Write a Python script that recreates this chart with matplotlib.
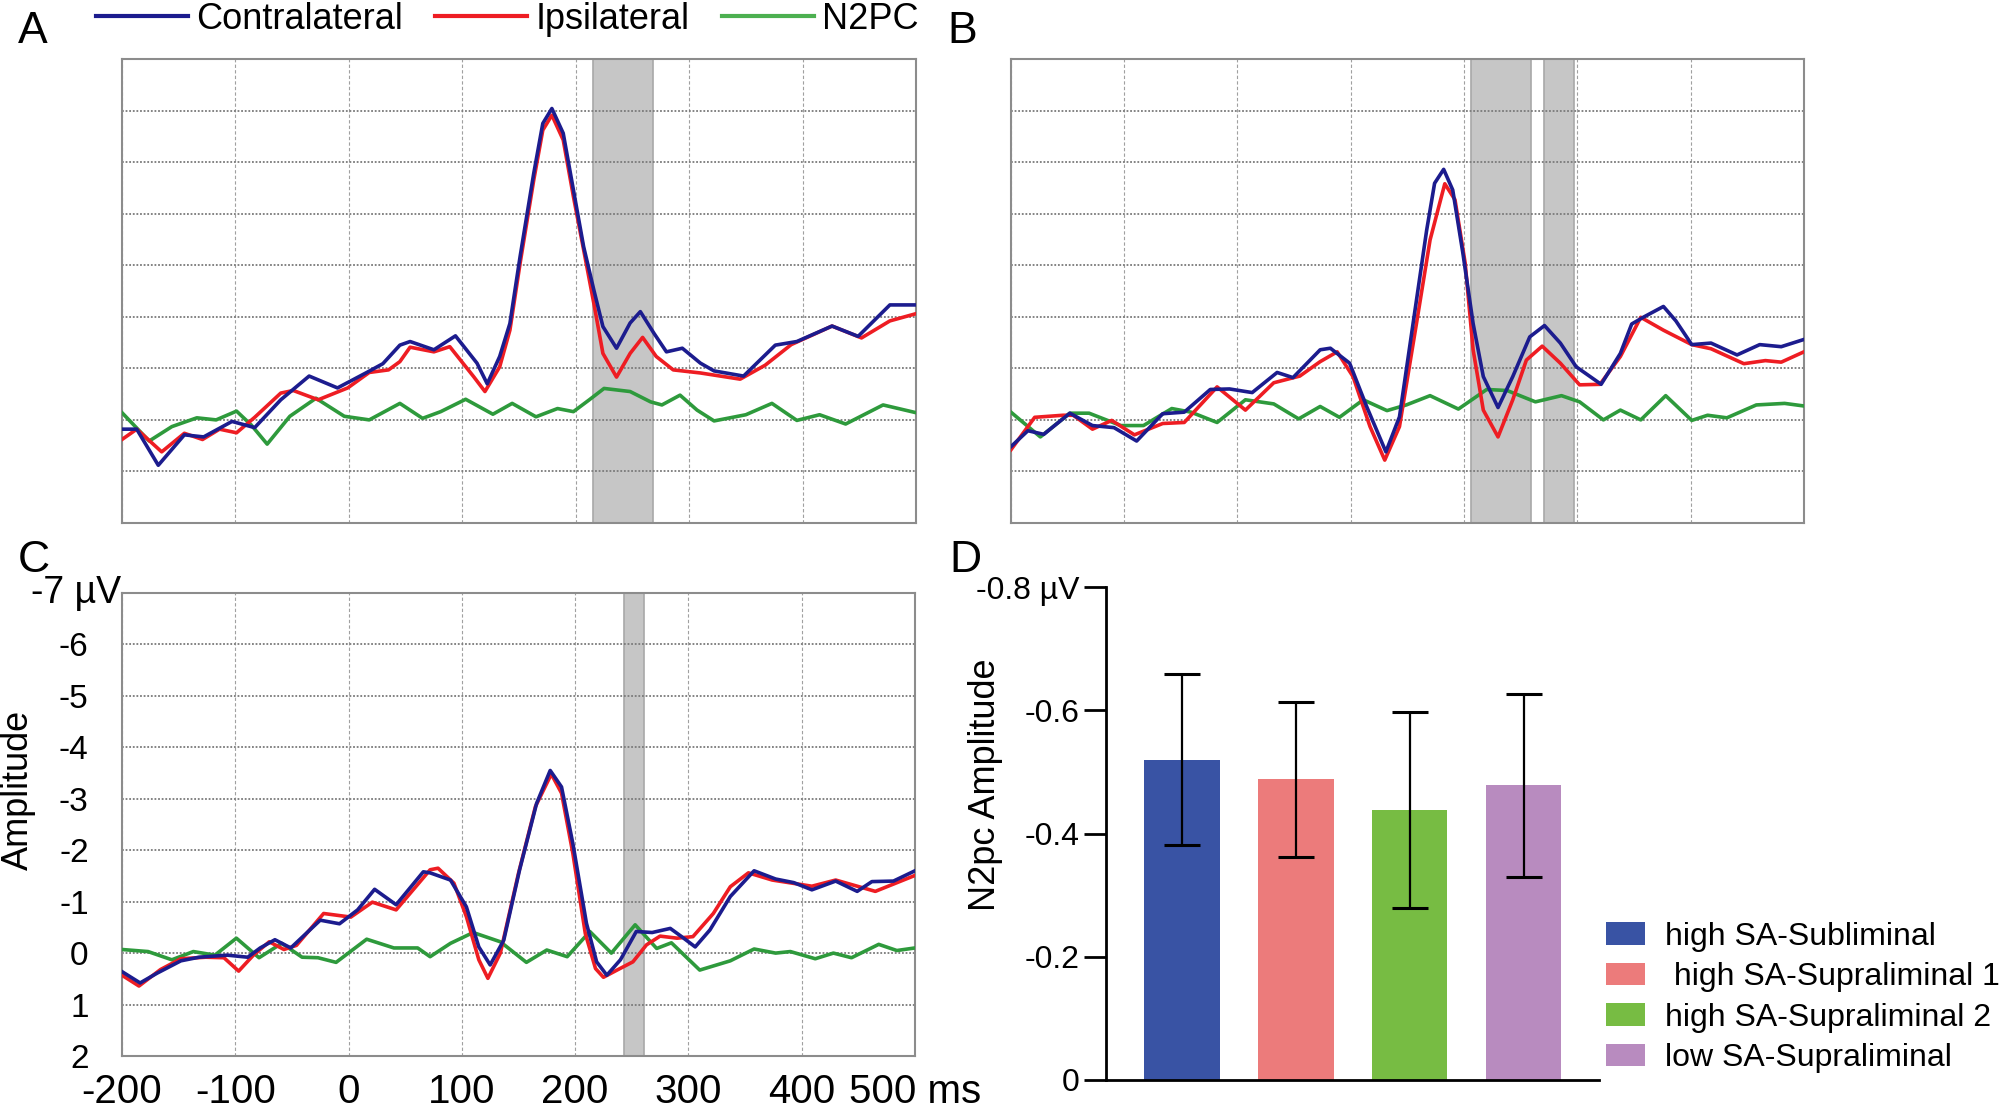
import numpy as np
import matplotlib
matplotlib.use('Agg')
import matplotlib.pyplot as plt
from matplotlib.lines import Line2D
from matplotlib.patches import Patch

plt.rcParams['font.family'] = ['Liberation Sans', 'DejaVu Sans']

# ---- panel A: waveforms (ms, uV) ----
a_con_t = [-200, -187, -168, -145, -128, -103, -83, -60, -35, -10, 15, 30, 45, 54, 75, 94, 113, 122, 133, 142,
           151, 163, 171, 179, 189, 198, 207, 216, 224, 236, 248, 257, 269, 280, 294, 310, 322, 348, 376, 395,
           426, 449, 477, 500]
a_con_v = [0.18, 0.18, 0.88, 0.29, 0.33, 0.03, 0.15, -0.39, -0.85, -0.62, -0.91, -1.09, -1.45, -1.52, -1.36,
           -1.63, -1.10, -0.70, -1.23, -1.87, -3.17, -4.78, -5.75, -6.04, -5.56, -4.46, -3.36, -2.52, -1.81,
           -1.39, -1.88, -2.10, -1.68, -1.32, -1.39, -1.10, -0.95, -0.85, -1.45, -1.52, -1.82, -1.62, -2.23,
           -2.23]
a_ips_t = [-200, -187, -165, -145, -129, -114, -99, -83, -60, -49, -27, -1, 18, 35, 45, 54, 75, 89, 110, 120,
           133, 142, 151, 163, 171, 179, 189, 198, 207, 216, 224, 236, 248, 259, 271, 286, 310, 345, 367, 390,
           426, 452, 477, 500]
a_ips_v = [0.38, 0.18, 0.62, 0.26, 0.38, 0.18, 0.25, -0.05, -0.52, -0.57, -0.39, -0.62, -0.92, -0.97, -1.13,
           -1.41, -1.32, -1.42, -0.84, -0.55, -1.03, -1.74, -3.04, -4.65, -5.62, -5.91, -5.43, -4.33, -3.30,
           -2.26, -1.29, -0.83, -1.29, -1.60, -1.23, -0.97, -0.91, -0.79, -1.06, -1.46, -1.82, -1.59, -1.92,
           -2.06]
a_n2_t = [-200, -176, -156, -134, -117, -99, -86, -72, -52, -29, -4, 18, 45, 65, 81, 103, 127, 144, 165, 184,
          198, 212, 225, 248, 266, 276, 292, 307, 322, 350, 373, 395, 415, 438, 471, 500]
a_n2_v = [-0.14, 0.41, 0.13, -0.04, 0.00, -0.17, 0.10, 0.47, -0.07, -0.42, -0.07, 0.00, -0.32, -0.03, -0.16,
          -0.40, -0.11, -0.32, -0.06, -0.22, -0.16, -0.39, -0.61, -0.55, -0.35, -0.29, -0.48, -0.19, 0.02,
          -0.10, -0.32, 0.01, -0.10, 0.08, -0.29, -0.14]
a_windows = [(215, 268)]

# ---- panel B ----
b_con_t = [-200, -185, -171, -148, -128, -109, -89, -66, -47, -24, -7, 13, 35, 49, 73, 82, 99, 114, 131, 143,
           155, 167, 174, 182, 190, 199, 208, 217, 230, 243, 258, 271, 285, 299, 321, 338, 348, 359, 376, 387,
           401, 418, 441, 461, 480, 500]
b_con_v = [0.52, 0.21, 0.28, -0.13, 0.11, 0.15, 0.41, -0.12, -0.15, -0.59, -0.60, -0.53, -0.92, -0.82, -1.36,
           -1.39, -1.10, -0.26, 0.62, -0.06, -1.87, -3.68, -4.59, -4.86, -4.46, -3.23, -1.87, -0.84, -0.24,
           -0.84, -1.61, -1.83, -1.49, -1.03, -0.69, -1.29, -1.86, -2.00, -2.20, -1.92, -1.46, -1.49, -1.26,
           -1.46, -1.42, -1.56]
b_ips_t = [-200, -179, -154, -145, -128, -111, -91, -66, -47, -18, 7, 32, 55, 73, 88, 102, 117, 130, 143, 158,
           170, 183, 192, 201, 208, 217, 230, 243, 255, 269, 285, 302, 320, 338, 356, 376, 401, 418, 447, 466,
           480, 500]
b_ips_v = [0.58, -0.05, -0.09, -0.09, 0.18, 0.01, 0.29, 0.07, 0.05, -0.64, -0.19, -0.72, -0.85, -1.13, -1.32,
           -0.84, 0.13, 0.78, 0.13, -1.87, -3.49, -4.58, -4.27, -3.04, -1.36, -0.19, 0.33, -0.39, -1.16, -1.43,
           -1.10, -0.68, -0.69, -1.23, -1.99, -1.74, -1.46, -1.38, -1.09, -1.15, -1.12, -1.32]
b_n2_t = [-200, -174, -148, -131, -103, -83, -58, -41, -18, 7, 32, 54, 73, 90, 111, 132, 149, 170, 195, 220,
          238, 263, 286, 302, 323, 338, 356, 378, 401, 415, 432, 458, 483, 500]
b_n2_v = [-0.15, 0.33, -0.13, -0.13, 0.11, 0.11, -0.22, -0.15, 0.05, -0.39, -0.31, -0.02, -0.26, -0.05, -0.39,
          -0.18, -0.29, -0.47, -0.21, -0.59, -0.57, -0.35, -0.47, -0.35, 0.00, -0.19, 0.00, -0.47, 0.01,
          -0.09, -0.04, -0.29, -0.32, -0.27]
b_windows = [(206, 259), (271, 297)]

# ---- panel C ----
c_con_t = [-200, -184, -169, -148, -132, -107, -89, -78, -65, -51, -25, -8, 8, 23, 42, 66, 72, 90, 104, 115,
           125, 137, 151, 166, 178, 188, 198, 210, 219, 228, 240, 254, 268, 284, 294, 306, 319, 337, 358, 377,
           393, 409, 430, 449, 462, 481, 500]
c_con_v = [0.36, 0.58, 0.39, 0.15, 0.08, 0.04, 0.08, -0.10, -0.26, -0.10, -0.64, -0.57, -0.84, -1.24, -0.94,
           -1.58, -1.56, -1.42, -0.90, -0.12, 0.23, -0.25, -1.62, -2.91, -3.55, -3.23, -2.13, -0.58, 0.17, 0.43,
           0.13, -0.42, -0.40, -0.48, -0.32, -0.12, -0.45, -1.10, -1.60, -1.44, -1.37, -1.23, -1.40, -1.20,
           -1.39, -1.40, -1.60]
c_ips_t = [-200, -185, -166, -148, -126, -110, -97, -84, -70, -57, -46, -22, 2, 21, 42, 72, 79, 93, 104, 115,
           123, 134, 150, 165, 179, 188, 198, 209, 218, 225, 237, 251, 263, 275, 290, 304, 322, 337, 353, 374,
           409, 430, 465, 500]
c_ips_v = [0.43, 0.64, 0.32, 0.11, 0.08, 0.09, 0.35, 0.04, -0.22, -0.07, -0.15, -0.77, -0.70, -0.99, -0.84,
           -1.62, -1.65, -1.36, -0.71, 0.13, 0.49, 0.00, -1.55, -2.85, -3.48, -3.11, -1.94, -0.38, 0.30, 0.47,
           0.33, 0.17, -0.16, -0.33, -0.29, -0.32, -0.77, -1.29, -1.56, -1.42, -1.30, -1.42, -1.20, -1.51]
c_n2_t = [-200, -177, -156, -137, -118, -99, -79, -59, -41, -27, -11, 16, 40, 61, 72, 90, 110, 134, 157, 175,
          193, 213, 232, 253, 272, 285, 310, 337, 358, 377, 390, 412, 428, 444, 468, 484, 500]
c_n2_v = [-0.07, -0.03, 0.13, -0.03, 0.04, -0.29, 0.09, -0.19, 0.08, 0.09, 0.18, -0.27, -0.10, -0.10, 0.07,
          -0.19, -0.40, -0.22, 0.18, -0.06, 0.07, -0.42, 0.00, -0.55, -0.09, -0.20, 0.33, 0.15, -0.08, 0.00,
          -0.03, 0.11, 0.00, 0.09, -0.17, -0.05, -0.10]
c_windows = [(243, 261)]

x_ticks = [-200, -100, 0, 100, 200, 300, 400, 500]
x_ticklabels = ['-200', '-100', '0', '100', '200', '300', '400', '500 ms']
y_ticks = [-7, -6, -5, -4, -3, -2, -1, 0, 1, 2]

# ---- panel D: N2pc amplitude bars ----
groups = ['high SA-Subliminal', ' high SA-Supraliminal 1', 'high SA-Supraliminal 2', 'low SA-Supraliminal']
n2pc_mean = [-0.52, -0.488, -0.438, -0.478]
n2pc_err = [0.139, 0.126, 0.159, 0.149]
bar_colors = ['#3953a4', '#ec7b7b', '#77bc43', '#b88bbf']

col_con = '#1c1c8e'
col_ips = '#ee1d23'
col_n2 = '#2e9a3c'

fig = plt.figure(figsize=(20.03, 11.09), dpi=100)


def erp_panel(rect, con, ips, n2, windows, labels=False):
    ax = fig.add_axes(rect)
    for w0, w1 in windows:
        ax.axvspan(w0, w1, color='#c6c6c6', ec='#a8a8a8', lw=1.2, zorder=1)
    ax.plot(n2[0], n2[1], color=col_n2, lw=2.6, zorder=3, solid_joinstyle='round')
    ax.plot(ips[0], ips[1], color=col_ips, lw=2.6, zorder=4, solid_joinstyle='round')
    ax.plot(con[0], con[1], color=col_con, lw=2.6, zorder=5, solid_joinstyle='round')
    ax.set_xlim(-200, 500)
    ax.set_ylim(2, -7)
    ax.set_xticks(x_ticks)
    ax.set_yticks(y_ticks)
    ax.grid(axis='x', color='#a0a0a0', ls=(0, (3, 2)), lw=0.8, zorder=0)
    ax.grid(axis='y', color='#7a7a7a', ls=(0, (1, 1)), lw=1.3, zorder=0)
    ax.tick_params(length=0)
    for s in ax.spines.values():
        s.set_color('#8c8c8c')
        s.set_linewidth(1.5)
    if labels:
        ax.set_xticklabels(x_ticklabels, fontsize=29)
        ax.set_yticklabels([''] + [str(v) for v in y_ticks[1:]], fontsize=24)
        ax.tick_params(axis='y', pad=24)
        ax.tick_params(axis='x', pad=12)
    else:
        ax.set_xticklabels([])
        ax.set_yticklabels([])
    return ax


ax_a = erp_panel([0.0609, 0.5284, 0.3964, 0.4184], (a_con_t, a_con_v), (a_ips_t, a_ips_v),
                 (a_n2_t, a_n2_v), a_windows)
ax_b = erp_panel([0.5047, 0.5284, 0.3959, 0.4184], (b_con_t, b_con_v), (b_ips_t, b_ips_v),
                 (b_n2_t, b_n2_v), b_windows)
ax_c = erp_panel([0.0609, 0.0478, 0.3959, 0.4175], (c_con_t, c_con_v), (c_ips_t, c_ips_v),
                 (c_n2_t, c_n2_v), c_windows, labels=True)
ax_c.text(-0.001, 1.0, '-7 µV', transform=ax_c.transAxes, ha='right', va='center', fontsize=27)
fig.text(0.009, 0.2875, 'Amplitude', rotation=90, ha='center', va='center', fontsize=26)

# ---- D ----
ax_d = fig.add_axes([0.5522, 0.02615, 0.2461, 0.4445])
xpos = np.arange(len(groups))
ax_d.bar(xpos, n2pc_mean, width=0.66, color=bar_colors, zorder=2)
ax_d.errorbar(xpos, n2pc_mean, yerr=n2pc_err, fmt='none', ecolor='black', elinewidth=1.6,
              capsize=13, capthick=2.2, zorder=3)
ax_d.set_xlim(-0.667, 3.66)
ax_d.set_ylim(0, -0.8)
ax_d.set_xticks([])
ax_d.set_yticks([0, -0.2, -0.4, -0.6, -0.8])
ax_d.set_yticklabels(['0', '-0.2', '-0.4', '-0.6', '-0.8 µV'], fontsize=23)
ax_d.tick_params(axis='y', length=16, width=2, pad=3)
ax_d.spines['top'].set_visible(False)
ax_d.spines['right'].set_visible(False)
ax_d.spines['left'].set_linewidth(2)
ax_d.spines['bottom'].set_linewidth(2)
fig.text(0.4918, 0.292, 'N2pc Amplitude', rotation=90, ha='center', va='center', fontsize=26)
handles = [Patch(facecolor=c, edgecolor='none') for c in bar_colors]
fig.legend(handles, groups, loc='upper left', bbox_to_anchor=(0.802, 0.169), frameon=False,
           fontsize=23, handlelength=1.22, handleheight=0.7, handletextpad=0.6, labelspacing=0.33,
           borderaxespad=0, borderpad=0)

# ---- top legend ----
leg_handles = [Line2D([], [], color=col_con, lw=3), Line2D([], [], color=col_ips, lw=3),
               Line2D([], [], color='#4cb050', lw=3)]
fig.legend(leg_handles, ['Contralateral', 'Ipsilateral', 'N2PC'], loc='upper left', ncol=3,
           bbox_to_anchor=(0.047, 1.0), frameon=False, fontsize=26, handlelength=2.55,
           handletextpad=0.22, columnspacing=0.9, borderaxespad=0, borderpad=0.05)

for lab, x, y in [('A', 0.009, 0.99), ('B', 0.473, 0.99), ('C', 0.009, 0.513), ('D', 0.474, 0.513)]:
    fig.text(x, y, lab, fontsize=32, ha='left', va='top')

fig.savefig('out.png', dpi=100)
